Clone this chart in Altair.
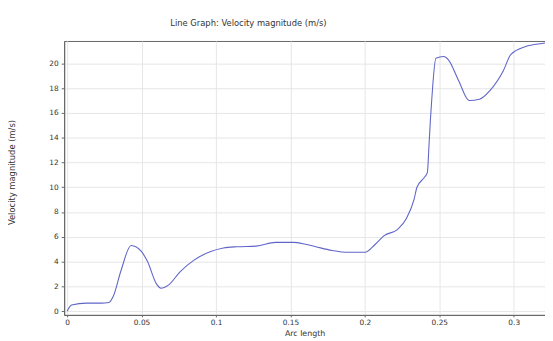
import altair as alt
import pandas as pd

arc_length = [0.0, 0.003, 0.013, 0.023, 0.028, 0.031, 0.036, 0.043, 0.050, 0.054,
              0.060, 0.063, 0.068, 0.076, 0.085, 0.096, 0.105, 0.114, 0.127, 0.140,
              0.152, 0.160, 0.167, 0.178, 0.189, 0.200, 0.207, 0.213, 0.222, 0.228,
              0.233, 0.235, 0.240, 0.242, 0.243, 0.244, 0.245, 0.2477, 0.253, 0.256,
              0.263, 0.270, 0.277, 0.284, 0.293, 0.298, 0.308, 0.319, 0.322]
velocity = [0.0, 0.5, 0.65, 0.65, 0.7, 1.2, 3.2, 5.3, 4.8, 4.0,
            2.2, 1.85, 2.1, 3.2, 4.1, 4.8, 5.1, 5.2, 5.25, 5.55,
            5.55, 5.4, 5.2, 4.9, 4.75, 4.75, 5.4, 6.1, 6.6, 7.5,
            9.0, 10.0, 10.8, 11.2, 13.2, 15.4, 17.2, 20.4, 20.55, 20.3,
            18.6, 17.0, 17.1, 17.8, 19.4, 20.7, 21.35, 21.6, 21.65]
x_ticks = [0, 0.05, 0.1, 0.15, 0.2, 0.25, 0.3]
y_ticks = [0, 2, 4, 6, 8, 10, 12, 14, 16, 18, 20]

df = pd.DataFrame({"arc": arc_length, "vel": velocity})

W, H = 488, 278
FONT = "DejaVu Sans"

chart = alt.Chart(df).mark_line(
    color="#6066c8", strokeWidth=1.1, interpolate="monotone", clip=True
).encode(
    x=alt.X("arc:Q",
            scale=alt.Scale(domain=[-0.002, 0.321], nice=False, zero=False),
            axis=alt.Axis(values=x_ticks, format="~g", title="Arc length",
                          titleX=W / 2, titleY=14.5, titleBaseline="top",
                          titleAlign="center", labelPadding=2, tickSize=2,
                          titleFontSize=8)),
    y=alt.Y("vel:Q",
            scale=alt.Scale(domain=[-0.3, 21.8], nice=False, zero=False),
            axis=alt.Axis(values=y_ticks, title="Velocity magnitude (m/s)",
                          titleAngle=-90, titleX=-53, titleY=133,
                          titleAlign="center", titleBaseline="middle",
                          labelPadding=3)),
).properties(
    width=W, height=H,
    title=alt.TitleParams(text="Line Graph: Velocity magnitude (m/s)",
                          anchor="middle", dx=-57, offset=14, fontSize=8.5,
                          fontWeight="normal", color="#333333", font=FONT),
    autosize=alt.AutoSizeParams(type="none"),
    padding={"left": 57, "top": 31, "right": 0, "bottom": 24},
).configure_view(
    stroke="#666666", strokeWidth=1
).configure_axis(
    domainColor="#666666", tickColor="#666666", tickSize=3,
    gridColor="#e6e6e6", labelFontSize=7.5, labelColor="#333333",
    titleFontSize=8.5, titleColor="#333333", titleFontWeight="normal",
    labelFont=FONT, titleFont=FONT
)

chart.save("out.html", embed_options={"renderer": "svg", "actions": False})
